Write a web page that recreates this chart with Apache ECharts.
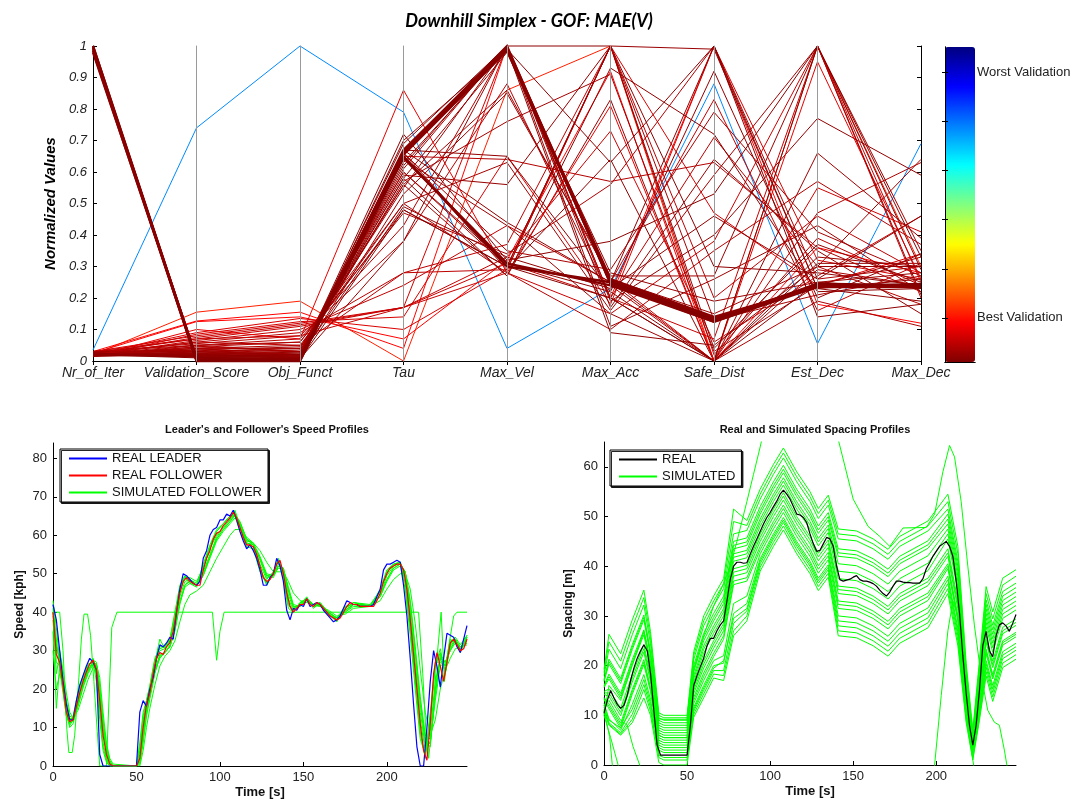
<!DOCTYPE html>
<html>
<head>
<meta charset="utf-8">
<title>Downhill Simplex - GOF: MAE(V)</title>
<script src="https://cdn.jsdelivr.net/npm/echarts@6/dist/echarts.min.js"></script>
<style>
  html, body { margin: 0; padding: 0; background: #fff; }
  #chart { width: 1085px; height: 800px; }
</style>
</head>
<body>
<div id="chart"></div>
<script>
// ---------- calibration runs (normalized parameter values) ----------
const DIMENSIONS = ['Nr_of_Iter', 'Validation_Score', 'Obj_Funct', 'Tau', 'Max_Vel',
  'Max_Acc', 'Safe_Dist', 'Est_Dec', 'Max_Dec'];

// run with the worst validation score
const WORST_RUN = [0.035, 0.74, 1.0, 0.79, 0.04, 0.23, 0.88, 0.055, 0.69];

// runs that used the full iteration budget and converged to the same optimum
const CONVERGED_RUNS = [
  [1.0, 0.0, 0.0, 0.66, 0.99, 0.25, 0.13, 0.24, 0.24],
  [0.995, 0.004, 0.003, 0.665, 1.0, 0.245, 0.125, 0.235, 0.245],
  [0.99, 0.008, 0.005, 0.655, 0.985, 0.255, 0.135, 0.24, 0.235],
  [0.985, 0.002, 0.002, 0.65, 0.30, 0.25, 0.13, 0.245, 0.24],
  [1.0, 0.006, 0.004, 0.645, 0.31, 0.24, 0.125, 0.24, 0.24],
  [0.98, 0.01, 0.006, 0.67, 0.995, 0.26, 0.14, 0.235, 0.235]
];

// remaining simplex runs
const SEARCH_RUNS = [
  [0.02, 0.155, 0.19, 0.0, 0.86, 1.0, 0.0, 1.0, 0.30],
  [0.03, 0.127, 0.155, 0.04, 1.0, 0.20, 1.0, 0.18, 0.12],
  [0.025, 0.125, 0.14, 0.07, 0.32, 0.92, 0.0, 0.36, 0.28],
  [0.02, 0.09, 0.135, 0.10, 0.29, 1.0, 0.47, 0.24, 0.34],
  [0.015, 0.085, 0.125, 0.14, 0.65, 0.18, 1.0, 0.32, 0.26],
  [0.03, 0.08, 0.12, 0.17, 1.0, 0.26, 0.0, 0.55, 0.41],
  [0.02, 0.075, 0.115, 0.17, 0.28, 0.15, 0.38, 1.0, 0.20],
  [0.025, 0.07, 0.11, 0.17, 0.33, 0.73, 0.06, 0.27, 0.46],
  [0.018, 0.065, 0.10, 0.24, 0.43, 0.25, 0.83, 0.16, 0.31],
  [0.022, 0.06, 0.09, 0.28, 0.37, 1.0, 0.02, 0.39, 0.24],
  [0.03, 0.055, 0.08, 0.38, 0.88, 0.20, 0.71, 0.30, 0.18],
  [0.015, 0.05, 0.07, 0.43, 1.0, 0.24, 0.0, 0.47, 0.63],
  [0.02, 0.045, 0.06, 0.47, 0.34, 0.56, 1.0, 0.26, 0.30],
  [0.025, 0.04, 0.05, 0.48, 0.30, 1.0, 0.13, 0.21, 0.27],
  [0.018, 0.035, 0.045, 0.50, 0.63, 0.16, 0.59, 1.0, 0.35],
  [0.03, 0.03, 0.04, 0.55, 1.0, 0.11, 0.26, 0.43, 0.22],
  [0.02, 0.028, 0.035, 0.56, 0.27, 0.83, 0.0, 0.66, 0.39],
  [0.015, 0.025, 0.03, 0.58, 0.98, 0.28, 0.19, 0.25, 0.28],
  [0.022, 0.022, 0.028, 0.59, 0.56, 1.0, 0.04, 0.37, 0.25],
  [0.025, 0.02, 0.025, 0.60, 0.31, 0.22, 0.92, 0.20, 0.34],
  [0.02, 0.018, 0.022, 0.62, 1.0, 0.19, 0.40, 0.77, 0.59],
  [0.03, 0.016, 0.02, 0.65, 0.29, 0.64, 0.0, 0.31, 0.31],
  [0.018, 0.015, 0.018, 0.67, 0.44, 0.25, 1.0, 0.23, 0.19],
  [0.02, 0.013, 0.015, 0.69, 1.0, 1.0, 0.30, 0.28, 0.24],
  [0.025, 0.012, 0.012, 0.72, 0.32, 0.38, 0.53, 1.0, 0.29],
  [0.015, 0.10, 0.07, 0.86, 0.28, 0.81, 0.0, 0.95, 0.26],
  [0.03, 0.05, 0.03, 0.65, 0.64, 0.57, 0.63, 0.36, 0.22],
  [0.02, 0.04, 0.02, 0.66, 0.35, 0.29, 0.79, 0.41, 0.27],
  [0.025, 0.035, 0.015, 0.57, 0.76, 0.91, 0.03, 0.24, 0.33],
  [0.018, 0.03, 0.01, 0.53, 0.85, 0.27, 0.27, 1.0, 0.21],
  [0.022, 0.025, 0.008, 0.38, 1.0, 0.17, 0.64, 0.35, 0.15],
  [0.02, 0.06, 0.05, 0.28, 0.29, 1.0, 0.20, 0.46, 0.28],
  [0.03, 0.07, 0.08, 0.17, 0.31, 0.20, 0.07, 1.0, 0.25],
  [0.015, 0.045, 0.03, 0.61, 1.0, 0.20, 0.0, 0.19, 0.11],
  [0.02, 0.02, 0.015, 0.49, 0.33, 0.23, 0.46, 0.26, 0.46],
  [0.025, 0.03, 0.02, 0.64, 0.43, 0.15, 0.0, 0.33, 0.30],
  [0.02, 0.015, 0.01, 0.70, 0.99, 0.63, 1.0, 0.14, 0.18],
  [0.018, 0.04, 0.04, 0.60, 0.30, 0.25, 0.0, 0.29, 0.24],
  [0.022, 0.05, 0.06, 0.50, 0.28, 0.10, 0.35, 0.57, 0.37],
  [0.03, 0.035, 0.03, 0.56, 0.86, 0.26, 0.15, 0.30, 0.64],
  [0.02, 0.025, 0.02, 0.66, 0.30, 1.0, 0.99, 0.23, 0.26],
  [0.015, 0.02, 0.01, 0.63, 0.99, 0.09, 0.05, 0.30, 0.30],
  [0.025, 0.015, 0.02, 0.58, 0.27, 0.93, 0.72, 0.22, 0.23],
  [0.02, 0.01, 0.005, 0.48, 0.30, 0.20, 0.0, 1.0, 0.33],
  [0.018, 0.018, 0.012, 0.67, 0.65, 0.22, 0.0, 0.25, 0.23]
];

// colour bar (jet, best validation at the bottom)
const JET = ['#800000', '#ff0000', '#ff8000', '#ffff00', '#80ff80', '#00ffff', '#0080ff', '#0000ff', '#000080'];
const COLORBAR_TICKS = [0.14, 0.296, 0.452, 0.608, 0.764, 0.92];
const COLORBAR_LABELS = { 0.14: 'Best Validation', 0.92: 'Worst Validation' };

// ---------- trajectories (2 s sampling) ----------
const TIME = [
  0, 2, 4, 6, 8, 10, 12, 14, 16, 18,
  20, 22, 24, 26, 28, 30, 32, 34, 36, 38,
  40, 42, 44, 46, 48, 50, 52, 54, 56, 58,
  60, 62, 64, 66, 68, 70, 72, 74, 76, 78,
  80, 82, 84, 86, 88, 90, 92, 94, 96, 98,
  100, 102, 104, 106, 108, 110, 112, 114, 116, 118,
  120, 122, 124, 126, 128, 130, 132, 134, 136, 138,
  140, 142, 144, 146, 148, 150, 152, 154, 156, 158,
  160, 162, 164, 166, 168, 170, 172, 174, 176, 178,
  180, 182, 184, 186, 188, 190, 192, 194, 196, 198,
  200, 202, 204, 206, 208, 210, 212, 214, 216, 218,
  220, 222, 224, 226, 228, 230, 232, 234, 236, 238,
  240, 242, 244, 246, 248
];

const LEADER_SPEED = [
  42, 38, 30, 22, 16, 12, 12, 17, 21, 23.5,
  26, 28, 27, 25, 3, 0, 0, 0, 0, 0,
  0, 0, 0, 0, 0, 0, 14, 17, 15.5, 20,
  23, 28, 31.5, 31, 32, 33.5, 33, 40, 46, 50,
  49.5, 48.5, 47.5, 47, 48, 54, 56, 60, 61.5, 62,
  64, 64, 65.5, 65, 66.5, 64, 61, 58.5, 56.5, 57.5,
  56, 54, 51, 47, 47, 49, 50, 54, 52, 48,
  40.5, 38, 41, 40.5, 42, 41.5, 43.5, 41.5, 42, 42.5,
  42, 40.5, 39.5, 38.5, 37.5, 38, 39, 41, 43, 42.5,
  42, 42, 41.5, 41.5, 41.5, 41.5, 42, 44, 46, 51,
  52.5, 52.5, 53, 53.5, 53, 47, 39, 28, 16, 5,
  0, 0, 10, 22, 30, 26, 20.5, 28, 34.5, 34,
  33.5, 31, 29.5, 33, 36.5
];

const FOLLOWER_SPEED = [
  40, 29, 27, 21, 14, 11.5, 12, 15.5, 19, 22,
  24.5, 26.5, 27.5, 25, 17, 8, 3, 0.5, 0, 0,
  0, 0, 0, 0, 0, 0, 2, 10, 16, 19,
  24, 28, 29.5, 29, 31, 32, 35, 40, 45, 48,
  49, 48, 47.5, 47, 47, 51, 54, 56, 59, 60.5,
  61, 62.5, 63.5, 64.5, 66, 64.5, 62, 59.5, 57.5, 57.5,
  57, 55, 52, 49, 48, 48.5, 50, 52.5, 53.5, 50,
  45, 41.5, 40, 41, 42, 42, 43.5, 42, 41.5, 42.5,
  42, 41, 40, 39, 38.5, 38, 38.5, 40, 41.5, 42.5,
  42, 42, 41.5, 41.5, 41.5, 41.5, 41.5, 43, 45, 48,
  50, 51.5, 52, 52.5, 52.5, 51, 46, 38, 29, 20,
  11, 4, 1.5, 11, 24, 29.5, 26, 22, 27, 32,
  33, 31.5, 30, 30.5, 33
];

const SPACING_REAL = [
  10.4, 13, 15, 13.5, 12.2, 11.4, 12, 14, 17, 19.5,
  21.5, 23, 24.2, 23, 18.5, 11, 4, 2, 2, 2,
  2, 2, 2, 2, 2, 2, 8, 16, 18, 19.8,
  21.5, 24, 25.5, 25.5, 27, 28.2, 29, 33, 37.3, 40,
  40.8, 40.8, 40.6, 40.7, 42.4, 44, 45.5, 47, 48.5, 49.8,
  50.8, 52, 53.1, 54.5, 55.3, 54.5, 53.5, 52, 50.5, 50.3,
  49.8, 48.8, 46.5, 44.5, 43, 43.2, 44.5, 45.8, 45.5, 44,
  40, 37.3, 37, 37.2, 37.4, 37.8, 38.1, 37.3, 37, 37,
  36.8, 36.5, 36, 35.2, 34.5, 34, 34.8, 36, 37, 37,
  36.8, 36.7, 36.7, 36.6, 36.6, 36.6, 37.5, 39.5, 40.7, 42,
  43, 44, 44.5, 45, 44, 42, 37, 30.6, 22, 14.5,
  8, 4, 8, 15, 24, 26.9, 23, 21.8, 26, 28.2,
  28.6, 28, 26.9, 28.5, 30.3
];

// ---------- simulated follower speeds ----------
const SIM_SPEED_TIME = [0, 2, 4, 6, 8, 10, 12, 15, 18, 21, 24, 26, 28, 30, 32, 34, 36, 50, 52, 54,
  56, 58, 61, 64, 67, 70, 73, 76, 79, 82, 86, 90, 94, 98, 102, 106, 109, 112, 116, 120,
  124, 128, 132, 135, 138, 141, 144, 148, 152, 156, 160, 165, 170, 175, 180, 190, 196, 200, 204, 208,
  211, 214, 217, 220, 223, 226, 229, 232, 235, 238, 241, 244, 248];

const SIM_SPEEDS = [
  [42, 33, 25, 19, 13, 11, 13, 19, 23.5, 26.5, 27, 22, 12, 4, 1, 0, 0, 0, 6, 14,
   17, 21, 28, 30.5, 31, 33, 40, 47, 49.5, 48, 47, 52.5, 57.5, 61.5, 63, 65, 65, 61, 57, 56.5,
   50.5, 47.5, 50.5, 53.5, 48.5, 41, 40, 42.5, 43, 41.5, 41.8, 39, 38.5, 41.5, 42, 41.5, 46, 51, 52.5, 52.5,
   46, 34, 20, 7, 3, 14, 27, 27, 26, 33, 32, 30, 34],
  [38, 24, 29, 23, 16, 12.5, 11.5, 15.5, 20.5, 24.5, 27.5, 27, 21, 12, 5, 1.5, 0, 0, 0.5, 6,
   13, 17.5, 24, 28.5, 29.5, 31, 35, 42, 47, 48.5, 47, 49.5, 54.5, 59, 61.5, 63.5, 65.5, 63.5, 59, 57.5,
   54, 49.5, 49, 52, 51.5, 46, 41.5, 41.5, 43.5, 42, 42, 40, 38, 40, 42, 41.5, 44, 48.5, 51.5, 52.5,
   50.5, 42, 29, 16, 6, 5, 19, 29, 27, 30, 33, 31, 32],
  [35, 15, 26, 22, 15, 10, 11, 16, 21.5, 25, 27, 24, 15, 6, 2, 0, 0, 0, 4, 12,
   16.5, 20, 27, 33, 30.5, 32.5, 38, 46, 49, 47.5, 46.5, 51.5, 56.5, 60, 62, 64, 66.5, 62.5, 58, 57.5,
   51, 47, 50, 54, 49.5, 42, 40.5, 42, 44, 41, 42.5, 39.5, 37.5, 41, 42.5, 41.5, 45.5, 50.5, 52, 53,
   47.5, 36, 22, 9, 2, 12, 26, 30.5, 24, 32.5, 33, 29.5, 33.5],
  [40, 30, 28.5, 23.5, 17, 13, 12.5, 16, 20.5, 24, 26.5, 26, 20, 11, 4.5, 1, 0, 0, 1, 7.5,
   14, 18, 24.5, 28, 29.5, 31, 35.5, 42.5, 46.5, 47.5, 47, 49.5, 54, 58.5, 61, 63, 64.5, 63, 59, 58,
   54.5, 50, 49.5, 51.5, 51, 46.5, 42, 41.5, 43, 42, 41.5, 40, 38.5, 40, 41.5, 41.5, 44, 48, 51, 52,
   50.5, 43, 31, 18, 8, 7, 17, 26, 27, 30, 32, 31, 32],
  [40, 31, 30, 25, 19, 14, 12.5, 14.5, 18.5, 22.5, 25.5, 26.5, 23, 14, 6, 2, 0.5, 0, 0, 4,
   10, 15, 21, 26, 28.5, 30, 32.5, 37.5, 42, 44.5, 45.5, 47, 50.5, 54, 57, 60, 61.5, 61.5, 59.5, 58,
   56, 53, 50.5, 50.5, 50.5, 48, 45, 43, 42.5, 42, 41.5, 40.5, 39, 39.5, 41, 41.5, 43, 46, 48.5, 50,
   50, 46, 37, 25, 14, 8, 12, 20, 25, 28, 30.5, 31, 31.5],
  [39, 27, 26, 20, 13, 10.5, 12, 17.5, 22.5, 26, 28, 25.5, 18, 9, 3.5, 0.5, 0, 0, 3, 11,
   16.5, 19.5, 26.5, 30, 30.5, 32.5, 38.5, 45.5, 49, 49, 48, 51.5, 56.5, 61, 63, 65, 66, 62.5, 58, 57.5,
   52.5, 48.5, 50.5, 53.5, 50.5, 43.5, 40.5, 42.5, 43.5, 42, 42.5, 40, 38.5, 41, 42.5, 42, 45.5, 50.5, 52.5, 53,
   49, 39, 25.5, 12, 4, 9, 22, 28, 24.5, 31, 33, 30.5, 33],
  [30, 20, 24, 21.5, 15.5, 12, 12.5, 16.5, 21, 25, 27, 26, 19, 10, 4, 1, 0, 0, 1.5, 8.5,
   15, 18.5, 25, 29, 29.5, 31.5, 36.5, 44, 48, 48.5, 47.5, 50.5, 55, 59.5, 62, 64, 65.5, 63, 58.5, 58,
   53.5, 49, 49.5, 52.5, 51, 44.5, 41, 42, 43.5, 42, 42, 40, 38.5, 40.5, 42, 41.8, 44.5, 49.5, 52, 53,
   50, 40, 27, 14, 5, 6, 20, 28.5, 26, 31.5, 33.5, 31.5, 34],
  [41, 31, 28, 22.5, 16.5, 12.5, 12, 16, 21, 24.5, 27, 26.5, 20.5, 11.5, 5, 1, 0, 0, 1, 7,
   13.5, 18, 24.5, 28.5, 29.5, 31, 35.5, 43, 47, 48, 47, 50, 54.5, 59, 61.5, 63.5, 65, 63.5, 59, 57.5,
   54, 49.5, 49.5, 52, 51.5, 45.5, 41.5, 41.5, 43.5, 42, 42, 40, 38, 40.5, 42, 41.5, 44.5, 48.5, 51.5, 52.5,
   50.5, 42.5, 30, 17, 7, 6, 18.5, 28, 27, 30.5, 32.5, 31, 32.5],
  [43, 36, 27, 20, 14, 11, 12.5, 18, 23, 26, 27.5, 23.5, 14, 5, 1.5, 0, 0, 0, 5, 13,
   17, 20.5, 27.5, 31, 31, 33, 39, 46.5, 49.5, 48.5, 47, 52, 57, 61, 63, 65, 65.5, 62, 57.5, 57,
   51.5, 47.5, 50, 53.5, 49.5, 42, 40, 42.5, 43.5, 41.5, 42, 39.5, 38, 41, 42.5, 41.5, 45.5, 50.5, 52.5, 53,
   47.5, 35.5, 22, 8.5, 2.5, 12.5, 26, 29.5, 24.5, 32, 33, 30, 33.5]
];

// simulated follower limited by its desired speed (time, speed)
const CAPPED_SIM_SPEED = [[0, 40], [4, 40], [6, 30], [8.3, 9.5], [9.5, 3.5], [11.5, 3.5], [13, 8],
  [15.5, 23], [17, 33], [18.6, 39.5], [20.7, 39.5], [22.5, 34], [24.5, 22], [26.5, 9], [28, 0],
  [32, 0], [35.2, 36], [38.3, 40], [95.5, 40], [98, 27.5], [100, 35], [102.5, 40], [219, 40],
  [221.5, 24], [223.5, 8], [225, 2], [227, 10], [230, 28], [232.5, 40], [234.5, 22], [237, 31],
  [240, 39], [242, 40], [248, 40]];

// ---------- simulated spacing ----------
const SIM_GAP_TIME = [0, 3, 10, 17, 24, 28, 33, 36, 50, 54, 60, 66, 72, 78, 86, 94, 102, 108, 116, 124,
  129, 135, 141, 152, 162, 171, 178, 195, 207, 213, 218, 222, 226, 230, 234, 240, 248];

const SIM_GAPS = [
  [19.2, 26.3, 22.4, 29.2, 35.2, 26.8, 10.5, 10, 10, 22.8, 30, 34, 37.5, 51.5, 49.2, 55.5, 60.5, 63.8, 59, 55, 51.6, 54.3, 47.5, 47.1, 45.5, 43.4, 46, 49.1, 54.5, 44, 20.5, 7, 21, 35.9, 30.8, 37.6, 39.3],
  [18.6, 24.8, 20.9, 27.7, 33.7, 25.6, 9.3, 9.2, 9.2, 22, 29, 33, 36.5, 49, 48.2, 54.5, 59.5, 62.8, 58, 54, 50.6, 53.3, 46.5, 46.1, 44.5, 42.4, 45, 48.1, 53, 42.5, 19.6, 6.5, 20.1, 34.5, 29.4, 36.2, 38],
  [18, 23.3, 19.4, 26.2, 32.2, 24.4, 10, 9.5, 9.5, 21.2, 28, 32, 35.5, 46.5, 47.2, 53.5, 58.5, 61.8, 57, 53, 49.6, 52.3, 45.5, 45.1, 43.5, 41.4, 44, 47.1, 51.5, 41, 18.7, 6.1, 19.2, 33.2, 28.1, 34.9, 36.6],
  [17.2, 21.3, 17.4, 24.2, 30.2, 22.8, 9.5, 9, 9, 20, 26.5, 30.5, 34, 45, 45.7, 52, 57, 60.3, 55.5, 51.5, 48.1, 50.8, 43.5, 43.1, 41.5, 39.4, 42, 45.1, 50.5, 40, 18.1, 5.8, 18.6, 32.3, 27.2, 34, 35.7],
  [17, 20.8, 16.9, 23.7, 29.7, 22.4, 9, 8.5, 8.5, 19.4, 25.7, 29.7, 33.2, 44.2, 44.9, 51.2, 56.2, 59.5, 54.7, 50.7, 47.3, 50, 42.7, 42.3, 40.7, 38.6, 41.2, 44.3, 49.5, 39, 17.5, 5.5, 18, 31.4, 26.3, 33.1, 34.8],
  [16.8, 20.3, 16.4, 23.2, 29.2, 22, 8.5, 8, 8, 18.8, 25, 29, 32.5, 43.5, 44.2, 50.5, 55.5, 58.8, 54, 50, 46.6, 49.3, 42, 41.6, 40, 37.9, 40.5, 43.6, 48.5, 38, 16.9, 5.2, 17.4, 30.5, 25.4, 32.2, 33.9],
  [16, 18.3, 14.4, 21.2, 27.2, 20.4, 8, 7.5, 7.5, 18, 24, 28, 31.5, 42.5, 43.2, 49.5, 54.5, 57.8, 53, 49, 45.6, 48.3, 40.5, 40.1, 38.5, 36.4, 39, 42.1, 47.5, 37, 16.3, 4.9, 16.8, 29.6, 24.5, 31.3, 33],
  [15.8, 17.8, 13.9, 20.7, 26.7, 20, 7.5, 7, 7, 17.4, 23.3, 27.3, 30.8, 41.8, 42.5, 48.8, 53.8, 57.1, 52.3, 48.3, 44.9, 47.6, 39, 38.6, 37, 34.9, 37.5, 40.6, 46.5, 36, 15.7, 4.6, 16.2, 28.7, 23.6, 30.4, 32.1],
  [15.6, 17.3, 13.4, 20.2, 26.2, 19.6, 7, 6.5, 6.5, 16.8, 22.5, 26.5, 30, 41, 41.7, 48, 53, 56.3, 51.5, 47.5, 44.1, 46.8, 37.5, 37.1, 35.5, 33.4, 36, 39.1, 45.5, 35, 15.1, 4.3, 15.6, 27.8, 22.7, 29.5, 31.2],
  [14.8, 15.3, 11.4, 18.2, 24.2, 18, 6.5, 6, 6, 15.6, 21, 25, 28.5, 39.5, 40.2, 46.5, 51.5, 54.8, 50, 46, 42.6, 45.3, 36, 35.6, 34, 31.9, 34.5, 37.6, 43.5, 33, 13.9, 3.7, 14.4, 26, 20.9, 27.7, 29.4],
  [14.5, 14.5, 10.6, 17.4, 23.4, 17.4, 6, 5.5, 5.5, 15, 20.3, 24.3, 27.8, 38.8, 39.5, 45.8, 50.8, 54.1, 49.3, 45.3, 41.9, 44.6, 35.3, 34.9, 33.3, 31.2, 33.8, 36.9, 42.7, 32.2, 13.4, 3.5, 13.9, 25.3, 20.2, 27, 28.7],
  [14.2, 13.8, 9.9, 16.7, 22.7, 16.8, 5.5, 5, 5, 14.4, 19.5, 23.5, 27, 38, 38.7, 45, 50, 53.3, 48.5, 44.5, 41.1, 43.8, 34.5, 34.1, 32.5, 30.4, 33, 36.1, 42, 31.5, 13, 3.3, 13.5, 24.7, 19.6, 26.4, 28.1],
  [13.6, 12.3, 8.4, 15.2, 21.2, 15.6, 5, 4.5, 4.5, 13.6, 18.5, 22.5, 26, 37, 37.7, 44, 49, 52.3, 47.5, 43.5, 40.1, 42.8, 33, 32.6, 31, 28.9, 31.5, 34.6, 40.5, 30, 12.1, 2.8, 12.6, 23.3, 18.2, 25, 26.7],
  [13.4, 11.8, 7.9, 14.7, 20.7, 15.2, 4.5, 4, 4, 13, 17.8, 21.8, 25.3, 36.3, 37, 43.3, 48.3, 51.6, 46.8, 42.8, 39.4, 42.1, 32.3, 31.9, 30.3, 28.2, 30.8, 33.9, 40, 29.5, 11.8, 2.7, 12.3, 22.9, 17.8, 24.6, 26.3],
  [13.2, 11.3, 7.4, 14.2, 20.2, 14.8, 4, 3.5, 3.5, 12.4, 17, 21, 22, 32.5, 34, 42.5, 47.5, 50.8, 46, 42, 38.6, 41.3, 31.5, 31.1, 29.5, 27.4, 30, 33.1, 39.5, 29, 11.5, 2.5, 12, 22.4, 17.3, 24.1, 25.8],
  [12.4, 9.3, 7, 12.2, 18.2, 13.2, 3.5, 3, 3, 11.6, 16, 20, 20.5, 30.5, 32.5, 41.5, 46.5, 49.8, 45, 41, 37.6, 40.3, 30, 29.6, 28, 25.9, 28.5, 31.6, 38, 27.5, 10.6, 2.1, 11.1, 21, 16, 22.8, 24.5],
  [12, 9, 7.5, 11.2, 17.2, 12.4, 3, 2.5, 2.5, 11.2, 15.5, 19.5, 21, 29.5, 31.5, 41, 46, 49.3, 44.5, 40.5, 37.1, 39.8, 29, 28.6, 27, 24.9, 27.5, 30.6, 37.3, 26.8, 10.2, 1.8, 10.7, 20.4, 15.3, 22.1, 23.8],
  [11.6, 8.5, 6.5, 10.2, 16.2, 11.6, 1.5, 1, 1, 10.8, 15, 19, 19, 28.5, 31, 40.5, 45.5, 48.8, 44, 40, 36.6, 39.3, 28, 27.6, 26, 23.9, 26.5, 29.6, 36.5, 26, 9.7, 1.6, 10.2, 19.7, 14.6, 21.4, 23.1],
  [11.2, 8.2, 6.2, 9.2, 15.2, 10.8, 2, 1.5, 1.5, 10.2, 14.3, 18.3, 18, 27, 30, 39.8, 44.8, 48.1, 43.3, 39.3, 35.9, 38.6, 27, 26.6, 25, 22.9, 25.5, 28.6, 35.5, 25, 9.1, 1.3, 9.6, 18.8, 13.7, 20.5, 22.2],
  [10.8, 8, 6, 8.5, 13.5, 10, 0.5, 0, 0, 9.6, 13.5, 17.5, 17, 26, 29, 39, 44, 47.3, 42.5, 38.5, 35.1, 37.8, 26, 25.6, 24, 21.9, 24.5, 27.6, 34.5, 24, 8.5, 1, 9, 17.9, 12.8, 19.6, 21.3]
];

// simulated runs whose spacing leaves the plotted range (time, spacing)
const STRAY_SIM_GAPS = [
  [[0, 10], [3, 16], [10, 13], [17, 20], [24, 27], [28, 21], [33, 6], [36, 5.5], [50, 5.5], [54, 19],
   [60, 26], [66, 32], [72, 36.5], [76, 40], [80, 45], [86, 53], [90, 58.5], [94, 64], [98, 70],
   [102, 76], [136, 76], [141, 65.5], [150, 53.5], [159, 48], [166, 46], [172, 44], [180, 47.7],
   [194, 47.8], [199, 50.5], [204, 59], [208, 64.3], [211, 62], [215, 53], [219, 40], [223, 28],
   [227, 18], [231, 11], [235, 8.6], [238, 8], [241, 3], [244, -3]],
  [[0, 10], [4, 5.5], [8.5, 0], [10, -2], [197, -2], [199, 0], [203, 14], [207, 27], [210, 33],
   [213, 30], [216, 20], [219, 10], [222, 1], [224, -3]],
  [[0, 11], [3.4, 5.7], [5, 0], [6, -2]],
  [[0, 12], [3, 13], [10, 9], [14, 8], [17.5, 3.7], [21.5, 0], [23, -2]]
];

// ---------- chart ----------
const SANS = "'Liberation Sans', Arial, sans-serif";
const chart = echarts.init(document.getElementById('chart'));

const pair = (xs, ys) => xs.map((x, i) => [x, ys[i]]);
const lineSeries = (name, data, color, xi, width) => ({
  type: 'line', name, data, xAxisIndex: xi, yAxisIndex: xi,
  symbol: 'none', showSymbol: false, silent: true, clip: true,
  lineStyle: { color, width: width || 1 }, itemStyle: { color, opacity: 0 }
});

const frameAxisLine = { show: true, lineStyle: { color: '#000', width: 1 } };
const plainTicks = { show: true, inside: true, length: 4, lineStyle: { color: '#000' } };

const series = [];
// parallel coordinates (coloured through the visualMap by validation score)
series.push({
  type: 'parallel', parallelIndex: 0, silent: true,
  lineStyle: { width: 1, opacity: 1 },
  data: [{ value: WORST_RUN }]
    .concat(SEARCH_RUNS.map(v => ({ value: v })))
    .concat(CONVERGED_RUNS.map(v => ({ value: v, lineStyle: { width: 2.4 } })))
});

// speed profiles
SIM_SPEEDS.forEach(s => series.push(lineSeries('SIMULATED FOLLOWER', pair(SIM_SPEED_TIME, s), '#00ff00', 2)));
series.push(lineSeries('SIMULATED FOLLOWER', CAPPED_SIM_SPEED, '#00ff00', 2));
series.push(lineSeries('REAL LEADER', pair(TIME, LEADER_SPEED), '#0000ff', 2, 1.2));
series.push(lineSeries('REAL FOLLOWER', pair(TIME, FOLLOWER_SPEED), '#ff0000', 2, 1.2));

// spacing profiles
SIM_GAPS.forEach(s => series.push(lineSeries('SIMULATED', pair(SIM_GAP_TIME, s), '#00ff00', 3)));
STRAY_SIM_GAPS.forEach(s => series.push(lineSeries('SIMULATED', s, '#00ff00', 3)));
series.push(lineSeries('REAL', pair(TIME, SPACING_REAL), '#000000', 3, 1.2));

const bottomX = (gridIndex) => ({
  gridIndex, type: 'value', min: 0, max: 248, interval: 50,
  axisLine: frameAxisLine, axisTick: plainTicks, splitLine: { show: false },
  axisLabel: { fontSize: 13, color: '#222', margin: 5, showMaxLabel: false, fontFamily: SANS },
  name: 'Time [s]', nameLocation: 'middle', nameGap: 20,
  nameTextStyle: { fontWeight: 'bold', fontSize: 13, color: '#111', fontFamily: SANS }
});
const bottomY = (gridIndex, max, name, gap) => ({
  gridIndex, type: 'value', min: 0, max, interval: 10,
  axisLine: frameAxisLine, axisTick: plainTicks, splitLine: { show: false },
  axisLabel: { fontSize: 13, color: '#222', margin: 6, showMaxLabel: false, fontFamily: SANS },
  name, nameLocation: 'middle', nameGap: gap, nameRotate: 90,
  nameTextStyle: { fontWeight: 'bold', fontSize: 12, color: '#111', fontFamily: SANS }
});
const legendBox = (left, top, data) => ({
  data, left, top, orient: 'vertical', selectedMode: false,
  itemWidth: 38, itemHeight: 14, itemGap: 4,
  padding: [3, 6, 3, 8],
  itemStyle: { opacity: 0 },
  borderColor: '#000', borderWidth: 1, backgroundColor: '#fff',
  shadowColor: 'rgba(0,0,0,0.85)', shadowOffsetX: 1.5, shadowOffsetY: 1.5, shadowBlur: 0,
  textStyle: { fontSize: 13, color: '#111', fontFamily: SANS }
});

// parallel axes only draw their spine; the frame grid carries ticks and labels
const hiddenLabel = { show: false, formatter: () => '', color: 'rgba(0,0,0,0)', fontSize: 1 };
const parallelAxisStyle = {
  type: 'value', min: 0, max: 1, name: '', nameTextStyle: { fontSize: 1, color: 'rgba(0,0,0,0)' },
  axisTick: { show: false }, axisLabel: hiddenLabel, splitLine: { show: false }
};

const option = {
  animation: false,
  backgroundColor: '#fff',
  textStyle: { fontFamily: SANS },
  title: [
    { text: 'Downhill Simplex - GOF: MAE(V)', left: 524, top: 7, textAlign: 'center',
      textStyle: { fontFamily: "Lato, 'Open Sans', sans-serif", fontWeight: 'bold', fontStyle: 'italic', fontSize: 18, color: '#000' } },
    { text: "Leader's and Follower's Speed Profiles", left: 262, top: 419, textAlign: 'center',
      textStyle: { fontFamily: SANS, fontWeight: 'bold', fontSize: 11, color: '#111' } },
    { text: 'Real and Simulated Spacing Profiles', left: 810, top: 419, textAlign: 'center',
      textStyle: { fontFamily: SANS, fontWeight: 'bold', fontSize: 11, color: '#111' } }
  ],
  legend: [
    legendBox(60, 449, ['REAL LEADER', 'REAL FOLLOWER', 'SIMULATED FOLLOWER']),
    legendBox(610, 450, ['REAL', 'SIMULATED'])
  ],
  visualMap: {
    type: 'continuous', seriesIndex: 0, dimension: 1, min: 0, max: 1,
    inRange: { color: JET },
    left: 945, top: 47, itemWidth: 30, itemHeight: 315, padding: 0,
    calculable: false, hoverLink: false, realtime: false, showLabel: false
  },
  parallel: {
    left: 93, top: 46, width: 828, height: 315, layout: 'horizontal',
    parallelAxisDefault: parallelAxisStyle
  },
  parallelAxis: DIMENSIONS.map((d, i) => Object.assign({}, parallelAxisStyle, {
    dim: i, parallelIndex: 0,
    axisLine: { show: i > 0 && i < DIMENSIONS.length - 1, lineStyle: { color: '#9a9a9a', width: 1 } }
  })),
  grid: [
    { left: 93, top: 46, width: 828, height: 315, outerBoundsMode: 'none' },
    { left: 53, top: 443, width: 414, height: 323, outerBoundsMode: 'none' },
    { left: 604, top: 442, width: 412, height: 323, outerBoundsMode: 'none' },
    { left: 945, top: 47, width: 30, height: 315, outerBoundsMode: 'none' }
  ],
  xAxis: [
    { gridIndex: 0, type: 'category', data: DIMENSIONS, boundaryGap: false, position: 'bottom',
      axisLine: frameAxisLine, axisTick: Object.assign({ interval: 0 }, plainTicks),
      axisLabel: { interval: 0, fontStyle: 'italic', fontSize: 14, color: '#222', margin: 5, fontFamily: SANS },
      splitLine: { show: false } },
    { gridIndex: 0, type: 'category', data: DIMENSIONS, boundaryGap: false, position: 'top',
      axisLine: frameAxisLine, axisTick: Object.assign({ interval: 0 }, plainTicks),
      axisLabel: { show: false }, splitLine: { show: false } },
    bottomX(1),
    bottomX(2),
    { gridIndex: 3, type: 'value', min: 0, max: 1, position: 'bottom', z: 10,
      axisLine: frameAxisLine, axisTick: { show: false }, axisLabel: { show: false }, splitLine: { show: false } },
    { gridIndex: 3, type: 'value', min: 0, max: 1, position: 'top', z: 10,
      axisLine: frameAxisLine, axisTick: { show: false }, axisLabel: { show: false }, splitLine: { show: false } }
  ],
  yAxis: [
    { gridIndex: 0, type: 'value', min: 0, max: 1, interval: 0.1, position: 'left',
      axisLine: frameAxisLine, axisTick: plainTicks, splitLine: { show: false },
      axisLabel: { fontStyle: 'italic', fontSize: 13, color: '#222', margin: 6, fontFamily: SANS },
      name: 'Normalized Values', nameLocation: 'middle', nameGap: 33, nameRotate: 90,
      nameTextStyle: { fontWeight: 'bold', fontStyle: 'italic', fontSize: 15, color: '#000', fontFamily: SANS } },
    { gridIndex: 0, type: 'value', min: 0, max: 1, interval: 0.1, position: 'right',
      axisLine: frameAxisLine, axisTick: plainTicks, splitLine: { show: false }, axisLabel: { show: false } },
    bottomY(1, 84, 'Speed [kph]', 27),
    bottomY(2, 65, 'Spacing [m]', 29),
    { gridIndex: 3, type: 'value', min: 0, max: 1, position: 'left', z: 10,
      axisLine: frameAxisLine, splitLine: { show: false }, axisLabel: { show: false },
      axisTick: { show: true, inside: false, length: 3, customValues: COLORBAR_TICKS, lineStyle: { color: '#000' } } },
    { gridIndex: 3, type: 'value', min: 0, max: 1, position: 'right', z: 10,
      axisLine: frameAxisLine, splitLine: { show: false },
      axisTick: { show: true, inside: false, length: 3, customValues: COLORBAR_TICKS, lineStyle: { color: '#000' } },
      axisLabel: { show: true, customValues: [0.14, 0.92], formatter: v => COLORBAR_LABELS[v] || '',
        fontSize: 13, color: '#222', margin: 2, fontFamily: SANS } }
  ],
  series
};

chart.setOption(option);
</script>
</body>
</html>
